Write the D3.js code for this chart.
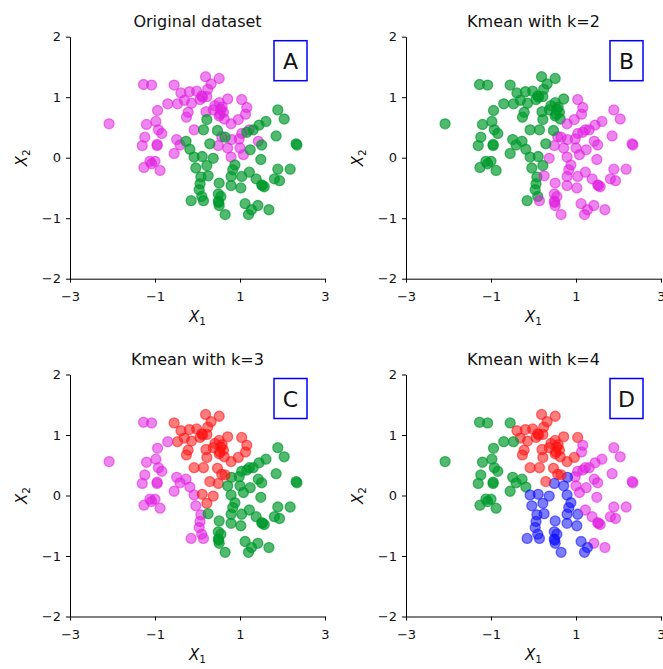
<!DOCTYPE html>
<html>
<head>
<meta charset="utf-8">
<script src="https://cdn.jsdelivr.net/npm/d3@7"></script>
<style>
body{margin:0;background:#fff}
svg{display:block;font-family:"DejaVu Sans",sans-serif}
</style>
</head>
<body>
<svg id="chart"></svg>
<script>
const width=663
const height=669
const innerWidth=255
const innerHeight=242

// point coordinates (same points in every panel)
const xs=[0.19,0.51,-1.27,-1.08,-0.55,0.32,0.24,-0.39,-0.19,-0.02,0.10,0.06,0.22,-0.31,-0.47,-0.70,-0.14,0.71,1.04,0.51,
0.41,0.58,0.37,0.61,1.16,-0.94,-0.22,0.20,-0.26,1.13,0.51,0.63,0.96,0.79,-2.08,-1.20,-0.98,-0.92,-0.84,-1.24,
-0.08,1.04,1.22,0.98,0.80,0.57,-1.30,-0.95,-0.95,-0.49,-0.41,-0.55,0.49,0.71,1.00,1.43,0.79,1.08,-1.12,-1.00,
-1.26,-0.88,-1.08,1.89,2.04,1.61,1.45,1.31,1.16,0.22,0.14,0.47,0.65,1.85,2.32,2.34,1.51,1.24,0.29,-0.27,
-0.18,-0.08,0.11,0.37,1.49,-0.04,0.22,0.08,0.25,0.88,0.83,0.79,1.04,1.22,1.38,1.51,1.57,1.89,2.18,1.81,
1.93,0.06,0.51,0.79,1.02,0.04,0.10,-0.15,0.14,0.49,0.55,0.49,0.51,0.65,1.12,1.42,1.27,1.20,1.68,0.12,
0.55,0.53,0.50,1.53]
const ys=[1.34,1.31,1.21,1.20,1.20,1.22,1.13,1.07,1.09,1.10,1.02,0.96,1.01,0.95,0.89,0.89,0.90,0.97,0.96,0.91,
0.86,0.84,0.79,0.75,0.83,0.78,0.75,0.76,0.67,0.72,0.69,0.64,0.63,0.56,0.56,0.55,0.60,0.46,0.40,0.34,
0.46,0.40,0.46,0.31,0.30,0.35,0.20,0.20,0.22,0.30,0.21,0.07,0.20,0.16,0.16,0.27,0.01,0.05,-0.06,-0.06,
-0.16,-0.21,-0.10,0.79,0.64,0.60,0.54,0.46,0.42,0.63,0.46,0.45,0.34,0.36,0.23,0.21,0.21,0.13,0.23,0.27,
0.14,0.01,0.02,-0.01,-0.03,-0.17,-0.13,-0.32,-0.30,-0.12,-0.20,-0.31,-0.31,-0.24,-0.35,-0.45,-0.48,-0.19,-0.19,-0.35,
-0.38,-0.43,-0.42,-0.46,-0.50,-0.53,-0.64,-0.71,-0.71,-0.60,-0.64,-0.72,-0.79,-0.94,-0.76,-0.79,-0.86,-0.94,-0.86,1.00,
0.80,0.72,-0.74,-0.46]

// cluster colour of each point, in blocks of ten points, one list per panel
const labA=['mmmmmmmmmm','mmmmmmmmmm','mmmmmmmmmm','mmmmmmmmmm','mmmmmmmmmm','mmmmmmmmmm',
'mmmggggggg','gggggggggg','gggggggggg','gggggggggg','gggggggggg','gggggggggm','mmgg'].join('')
const labB=['gggggggggg','ggggggggmg','ggggmggggm','ggmmgggggg','gmmmmmgggg','ggmmmmmmgg',
'gggmmmmmmg','ggmmmmmmgg','gggmmgggmm','mmmmmmmmmm','mgmmmgggmm','mmmmmmmmmg','ggmm'].join('')
const labC=['rrmmrrrrrr','rrrrrmrrrr','rrrrrmrrrr','rrrrmmmmmm','rggggrmmmm','mmrgggggmm',
'mmmggggggr','rrrgggggrm','mmrrgmrmgg','gggggggggg','gmgggmmmmg','gggggggggr','rrgg'].join('')
const labD=['rrgggrrrrr','rrrrggrrrr','rrrrmgrrrm','rrrrgggggg','rmmmbrgggg','ggbbmmbmgg',
'gggmmmmmmr','rrrmmmmmrg','gbbbmbbbbb','bbbmmmmmmm','mbbbbbbbbb','bbbbbmbbmr','rrbm'].join('')

const titles=['Original dataset','Kmean with k=2','Kmean with k=3','Kmean with k=4']
const letters=['A','B','C','D']
const labelSets=[labA,labB,labC,labD]
const xTicks=[-3,-1,1,3]
const yTicks=[-2,-1,0,1,2]

const colors={m:'#e020e0',g:'#009a2c',r:'#ff1010',b:'#1010ff'}
const alphas={m:0.55,g:0.68,r:0.55,b:0.55}

const panelPos=[[70,36.7],[406,36.7],[70,374.5],[406,374.5]]

const svg=d3.select('#chart').attr('width',width).attr('height',height)

const minus=d=>d<0?'\u2212'+Math.abs(d):String(d)

function drawPanel(i){
    const g=svg.append('g')
    .attr('transform',`translate(${panelPos[i][0]},${panelPos[i][1]})`)

    const x=d3.scaleLinear().domain([-3,3]).range([0,innerWidth])
    const y=d3.scaleLinear().domain([-2,2]).range([innerHeight,0])

    const xAxis=d3.axisBottom(x).tickValues(xTicks).tickSize(4).tickPadding(9).tickFormat(minus).tickSizeOuter(0)
    const yAxis=d3.axisLeft(y).tickValues(yTicks).tickSize(4).tickPadding(5).tickFormat(minus).tickSizeOuter(0)

    g.append('g').attr('transform',`translate(0,${innerHeight})`).call(xAxis)
    g.append('g').call(yAxis)
    g.selectAll('.tick text').attr('font-size',13).attr('font-family','DejaVu Sans').attr('fill','#111')
    g.selectAll('.domain, .tick line').attr('stroke','#000').attr('stroke-width',1)

    // points
    const labs=labelSets[i]
    g.append('g').selectAll('circle')
    .data(xs.map((v,j)=>({x:v,y:ys[j],c:labs[j]})))
    .enter()
    .append('circle')
    .attr('cx',d=>x(d.x))
    .attr('cy',d=>y(d.y))
    .attr('r',5)
    .attr('fill',d=>colors[d.c])
    .attr('fill-opacity',d=>alphas[d.c])
    .attr('stroke',d=>colors[d.c])
    .attr('stroke-opacity',d=>alphas[d.c])
    .attr('stroke-width',1.3)

    // title
    g.append('text').text(titles[i])
    .attr('x',innerWidth/2).attr('y',-10)
    .attr('text-anchor','middle').attr('font-size',16).attr('fill','#111')

    // boxed letter
    const bx=x(1.8)
    g.append('rect').attr('x',bx).attr('y',4).attr('width',33).attr('height',40)
    .attr('fill','#fff').attr('stroke','#0000ff').attr('stroke-width',1.5)
    g.append('text').text(letters[i])
    .attr('x',bx+16.5).attr('y',32).attr('text-anchor','middle')
    .attr('font-size',22).attr('fill','#111')

    // axis labels
    const xl=g.append('text').attr('x',innerWidth/2).attr('y',innerHeight+43.5)
    .attr('text-anchor','middle').attr('font-size',15).attr('fill','#111')
    xl.append('tspan').attr('font-style','italic').text('X')
    xl.append('tspan').attr('font-size',10.5).attr('dy',3).text('1')

    const yl=g.append('text')
    .attr('transform',`translate(-43,${innerHeight/2}) rotate(-90)`)
    .attr('text-anchor','middle').attr('font-size',15).attr('fill','#111')
    yl.append('tspan').attr('font-style','italic').text('X')
    yl.append('tspan').attr('font-size',10.5).attr('dy',3).text('2')
}

for(let i=0;i<4;i++) drawPanel(i)
</script>
</body>
</html>
